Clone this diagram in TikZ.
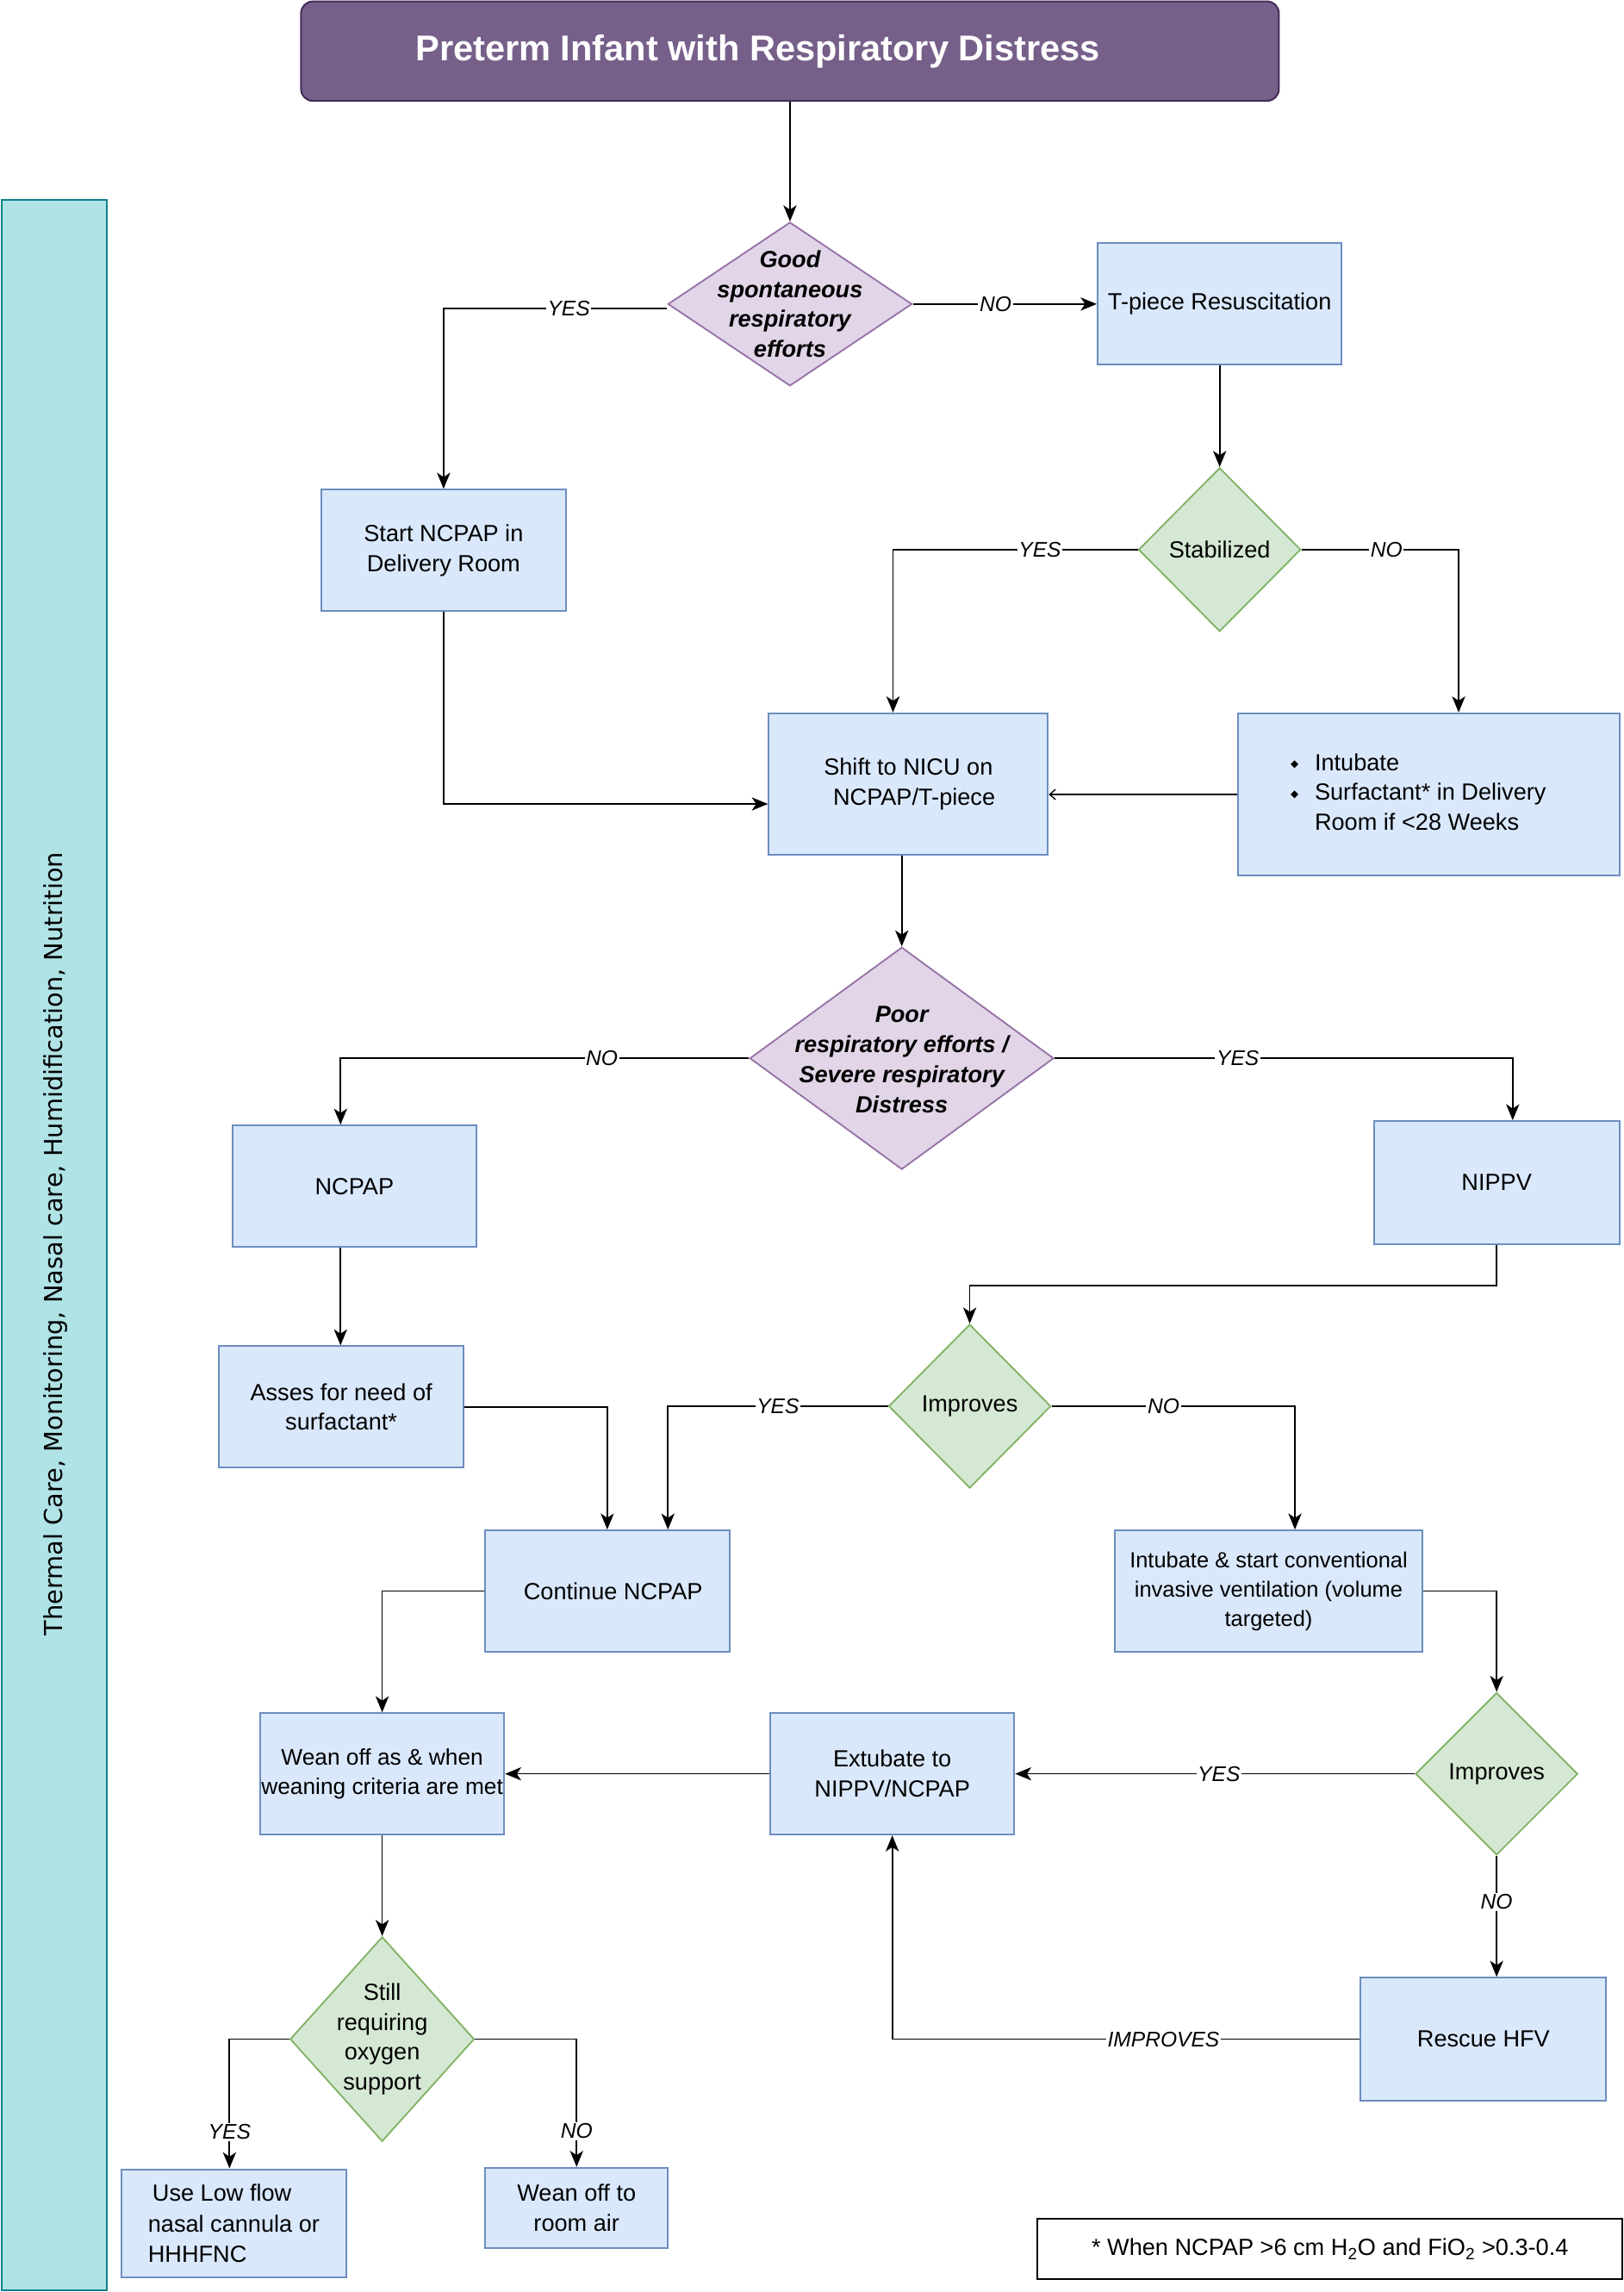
\documentclass[tikz,border=0pt]{standalone}
\usepackage{fontspec}
\setmainfont{Liberation Sans}
\newfontfamily\dejavu{DejaVu Sans}
\usetikzlibrary{shapes.geometric,arrows.meta}
\definecolor{boxF}{HTML}{DAE8FC}
\definecolor{boxB}{HTML}{6C8EBF}
\definecolor{purF}{HTML}{E1D5E7}
\definecolor{purB}{HTML}{9673A6}
\definecolor{grnF}{HTML}{D5E8D4}
\definecolor{grnB}{HTML}{82B366}
\definecolor{titF}{HTML}{76608A}
\definecolor{titB}{HTML}{432D57}
\definecolor{sideF}{HTML}{B0E3E6}
\definecolor{sideB}{HTML}{0E8088}
\begin{document}
\begin{tikzpicture}[x=1pt,y=-1pt,
  box/.style={draw=boxB, fill=boxF, line width=1.2pt, inner sep=2pt, align=center,
    font=\fontsize{16}{20.5}\selectfont},
  pdia/.style={diamond, draw=purB, fill=purF, line width=1.1pt, inner sep=0pt},
  gdia/.style={diamond, draw=grnB, fill=grnF, line width=1.1pt, inner sep=0pt},
  dtext/.style={align=center, font=\fontsize{16}{20.5}\selectfont},
  dbtext/.style={align=center, font=\fontsize{16}{20.5}\selectfont\bfseries\itshape},
  conn/.style={draw=black, line width=1pt, -{Stealth[length=11pt,width=9pt,inset=3pt]}},
  lab/.style={fill=white, inner sep=1pt, font=\fontsize{14.5}{16}\selectfont\itshape}
]
\useasboundingbox (0,0) rectangle (1111,1568);

% sidebar
\node[draw=sideB, fill=sideF, line width=1.2pt, minimum width=72pt, minimum height=1430pt,
  inner sep=0pt] (side) at (37,852) {};
\node[rotate=90, font=\dejavu\fontsize{17}{20}\selectfont, inner sep=0pt] (sidetxt) at (38,851)
  {Thermal Care, Monitoring, Nasal care, Humidification, Nutrition};

% title
\node[draw=titB, fill=titF, line width=1.2pt, rounded corners=8pt, minimum width=669pt,
  minimum height=68pt, inner sep=0pt,
  label={[text=white, font=\fontsize{24.5}{28}\selectfont\bfseries, xshift=-22pt]center:Preterm Infant with Respiratory Distress}]
  (title) at (540.5,35) {};

% diamonds
\node[pdia, minimum width=167pt, minimum height=112pt,
  label={[dbtext]center:Good\\spontaneous\\respiratory\\efforts}] (d1) at (540.5,208) {};
\node[gdia, minimum width=111pt, minimum height=112pt,
  label={[dtext]center:Stabilized}] (stab) at (834.5,376) {};
\node[pdia, minimum width=208pt, minimum height=152pt,
  label={[dbtext, yshift=-1pt]center:Poor\\respiratory efforts /\\Severe respiratory\\Distress}] (d2) at (617,724) {};
\node[gdia, minimum width=111pt, minimum height=112pt,
  label={[dtext]center:Improves}] (imp1) at (663.5,962) {};
\node[gdia, minimum width=111pt, minimum height=111pt,
  label={[dtext]center:Improves}] (imp2) at (1024,1213.5) {};
\node[gdia, minimum width=126pt, minimum height=140pt,
  label={[dtext]center:Still\\requiring\\oxygen\\support}] (still) at (261.5,1395) {};

% boxes
\node[box, minimum width=167pt, minimum height=83pt] (tp) at (834.5,208) {T-piece Resuscitation};
\node[box, minimum width=167pt, minimum height=83pt] (sn) at (303.5,376.5) {Start NCPAP in\\Delivery Room};
\node[box, minimum width=191pt, minimum height=97pt] (shift) at (621.5,536.5) {Shift to NICU on\\\hspace*{8pt}NCPAP/T-piece};
\node[box, minimum width=261pt, minimum height=111pt, align=left] (int1) at (977.5,543.5)
  {\begin{tabular}{@{}l@{\hspace{11pt}}l@{}}
   {\dejavu\fontsize{7}{7}\selectfont\raisebox{2pt}{◆}} & Intubate\\
   {\dejavu\fontsize{7}{7}\selectfont\raisebox{2pt}{◆}} & Surfactant* in Delivery\\
   & Room if <28 Weeks
   \end{tabular}\hspace*{14pt}};
\node[box, minimum width=167pt, minimum height=83pt] (ncpap) at (242.5,811.5) {NCPAP};
\node[box, minimum width=168pt, minimum height=84pt] (nippv) at (1024,809) {NIPPV};
\node[box, minimum width=167pt, minimum height=83pt] (asses) at (233.5,962.5) {Asses for need of\\surfactant*};
\node[box, minimum width=167pt, minimum height=83pt] (cont) at (415.5,1088.5) {\hspace*{8pt}Continue NCPAP};
\node[box, minimum width=210pt, minimum height=83pt, font=\fontsize{15}{20}\selectfont] (int2) at (868,1088.5)
  {Intubate \& start conventional\\invasive ventilation (volume\\targeted)};
\node[box, minimum width=167pt, minimum height=83pt, inner sep=0pt, font=\fontsize{15.5}{20}\selectfont] (wean) at (261.5,1213.5)
  {Wean off as \& when\\weaning criteria are met};
\node[box, minimum width=167pt, minimum height=83pt] (ext) at (610.5,1213.5) {Extubate to\\NIPPV/NCPAP};
\node[box, minimum width=168pt, minimum height=84pt] (resc) at (1015,1395) {Rescue HFV};
\node[box, minimum width=154pt, minimum height=74pt, align=left, font=\fontsize{16}{21}\selectfont] (uselow) at (160,1521)
  {\hspace*{3pt}Use Low flow\\nasal cannula or\\HHHFNC};
\node[box, minimum width=125pt, minimum height=55pt] (weanoff) at (394.5,1510.5) {Wean off to\\room air};

% footnote
\node[draw=black, fill=white, line width=1.2pt, minimum width=400pt, minimum height=41pt,
  font=\fontsize{16}{20}\selectfont] (foot) at (910,1538.5)
  {* When NCPAP >6 cm H\textsubscript{2}O and FiO\textsubscript{2} >0.3-0.4};

% connectors
\draw[conn] (title.south) -- (d1.north);
\draw[conn] ([yshift=-3pt]d1.west) -| node[lab, pos=0.22] {YES} (sn.north);
\draw[conn] (d1.east) -- node[lab, pos=0.45] {NO} (tp.west);
\draw[conn] (tp.south) -- (stab.north);
\draw[conn] (stab.west) -| node[lab, pos=0.2] {YES} ([xshift=-10.5pt]shift.north);
\draw[conn] (stab.east) -| node[lab, pos=0.27] {NO} ([xshift=20.5pt]int1.north);
\draw[conn] (sn.south) |- ([yshift=-13.5pt]shift.west);
\draw[line width=1pt, -{Straight Barb[length=4pt,width=7pt,line width=0.8pt]}] (int1.west) -- (int1.west -| shift.east);
\draw[conn] ([xshift=-4.5pt]shift.south) -- (d2.north);
\draw[conn] (d2.west) -| node[lab, pos=0.18] {NO} ([xshift=-9.5pt]ncpap.north);
\draw[conn] (d2.east) -| node[lab, pos=0.2] {YES} ([xshift=11pt]nippv.north);
\draw[conn] ([xshift=-9.5pt]ncpap.south) -- ([xshift=-0.5pt]asses.north);
\draw[conn] (nippv.south) -- ++(0,28) -| (imp1.north);
\draw[conn] (imp1.west) -| node[lab, pos=0.25] {YES} ([xshift=41.5pt]cont.north);
\draw[conn] (imp1.east) -| node[lab, pos=0.23] {NO} ([xshift=18pt]int2.north);
\draw[conn] (asses.east) -| (cont.north);
\draw[conn] (cont.west) -| (wean.north);
\draw[conn] (int2.east) -| (imp2.north);
\draw[conn] (imp2.west) -- node[lab, pos=0.49] {YES} (ext.east);
\draw[conn] (imp2.south) -- node[lab, pos=0.38] {NO} ([xshift=9pt]resc.north);
\draw[conn] (ext.west) -- (wean.east);
\draw[conn] (resc.west) -| node[lab, pos=0.21] {IMPROVES} (ext.south);
\draw[conn] (wean.south) -- (still.north);
\draw[conn] (still.west) -| node[lab, pos=0.86] {YES} ([xshift=-3pt]uselow.north);
\draw[conn] (still.east) -| node[lab, pos=0.86] {NO} (weanoff.north);
\end{tikzpicture}
\end{document}
